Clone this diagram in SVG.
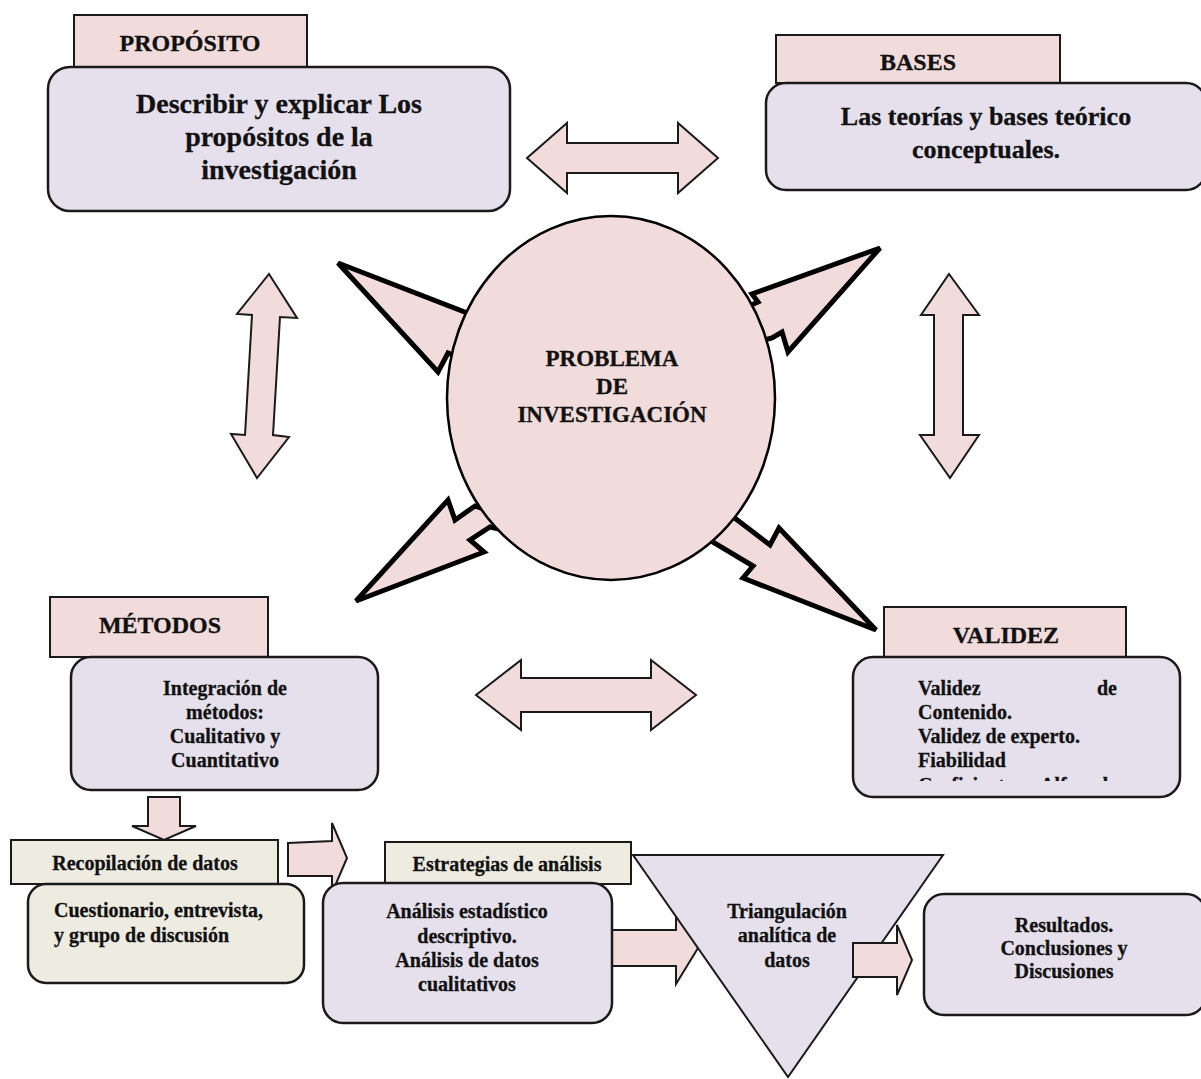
<svg xmlns="http://www.w3.org/2000/svg" width="1201" height="1079" viewBox="0 0 1201 1079">
<style>
.t{font-family:"Liberation Serif","Times New Roman",serif;font-weight:bold;fill:#111;stroke:#111;stroke-width:0.3;}
.c{text-anchor:middle;}
.tab{fill:#f2dcdb;stroke:#1a1a1a;stroke-width:2;}
.tabb{fill:#eeece1;stroke:#1a1a1a;stroke-width:2;}
.box{fill:#e5e0ec;stroke:#1a1a1a;stroke-width:2.5;}
.boxb{fill:#eeece1;stroke:#1a1a1a;stroke-width:2.5;}
.arr{fill:#f2dcdb;stroke:#1a1a1a;stroke-width:2;stroke-linejoin:miter;}
.bolt{fill:#f2dcdb;stroke:#000;stroke-width:5;stroke-linejoin:miter;}
.s28{font-size:28px;}
.s26{font-size:26px;}
.s24{font-size:24px;}
.s23{font-size:23px;}
.s20{font-size:20px;}
</style>
<defs>
<clipPath id="valclip"><rect x="853" y="657" width="327" height="124"/></clipPath>
</defs>
<rect width="1201" height="1079" fill="#ffffff"/>

<g id="connectors">
<polygon class="bolt" points="338,263 480,318 478,362 458,357 448,353 438,372"/>
<polygon class="bolt" points="880,248 752,294 758,302 740,310 745,345 772,338 782,332 788,352"/>
<polygon class="bolt" points="356,601 448,500 455,520 475,506 500,515 512,532 490,527 470,540 484,552"/>
<polygon class="bolt" points="876,630 779,528 770,545 732,516 706,538 753,566 743,578"/>
<polygon class="arr" points="527,158 567,123 567,143 678,143 678,123 718,158 678,193 678,173 567,173 567,193"/>
<polygon class="arr" points="269,274 297,318 280,317 273,435 289,437 257,478 231,434 245,435 252,315 237,314"/>
<polygon class="arr" points="949,274 979,315 963,315 963,435 979,435 950,478 920,435 934,435 934,315 921,315"/>
<polygon class="arr" points="476,695 521,660 521,678 651,678 651,660 696,695 651,730 651,712 521,712 521,730"/>
<polygon class="arr" points="148,797 180,797 180,826 196,826 164,840 132,826 148,826"/>
<polygon class="arr" points="612,930 676,930 676,912 698,948 676,984 676,966 612,966"/>
</g>

<g id="problema">
<ellipse cx="611" cy="398" rx="164" ry="182" fill="#f2dcdb" stroke="#000" stroke-width="2.5"/>
<text class="t c s23" x="612" y="366">PROBLEMA</text>
<text class="t c s23" x="612" y="394">DE</text>
<text class="t c s23" x="612" y="422">INVESTIGACIÓN</text>
</g>

<g id="proposito">
<rect class="tab" x="74" y="15" width="233" height="52"/>
<text class="t c s24" x="190" y="51">PROPÓSITO</text>
<rect class="box" x="48" y="67" width="462" height="144" rx="22"/>
<text class="t c s28" x="279" y="113">Describir y explicar Los</text>
<text class="t c s28" x="279" y="146">propósitos de la</text>
<text class="t c s28" x="279" y="179">investigación</text>
</g>

<g id="bases">
<rect class="tab" x="776" y="35" width="284" height="48"/>
<text class="t c s24" x="918" y="70">BASES</text>
<rect class="box" x="766" y="83" width="440" height="107" rx="20"/>
<text class="t c s26" x="986" y="125">Las teorías y bases teórico</text>
<text class="t c s26" x="986" y="158">conceptuales.</text>
</g>

<g id="metodos">
<rect class="tab" x="50" y="597" width="218" height="60"/>
<text class="t c s24" x="160" y="633">MÉTODOS</text>
<rect class="box" x="71" y="657" width="307" height="133" rx="20"/>
<text class="t c s20" x="225" y="695">Integración de</text>
<text class="t c s20" x="225" y="719">métodos:</text>
<text class="t c s20" x="225" y="743">Cualitativo y</text>
<text class="t c s20" x="225" y="767">Cuantitativo</text>
</g>

<g id="validez">
<rect class="tab" x="884" y="607" width="242" height="50"/>
<text class="t c s24" x="1006" y="643">VALIDEZ</text>
<rect class="box" x="853" y="657" width="327" height="140" rx="20"/>
<text class="t s20" x="918" y="695">Validez</text>
<text class="t s20" x="1117" y="695" text-anchor="end">de</text>
<text class="t s20" x="918" y="719">Contenido.</text>
<text class="t s20" x="918" y="743">Validez de experto.</text>
<text class="t s20" x="918" y="767">Fiabilidad</text>
<g clip-path="url(#valclip)">
<text class="t s20" x="918" y="792">Coeficiente</text>
<text class="t s20" x="1040" y="792">Alfa</text>
<text class="t s20" x="1117" y="792" text-anchor="end">de</text>
</g>
</g>

<g id="recopilacion">
<rect class="tabb" x="11" y="840" width="267" height="44"/>
<text class="t c s20" x="145" y="870">Recopilación de datos</text>
<rect class="boxb" x="28" y="884" width="276" height="99" rx="18"/>
<text class="t s20" x="54" y="917">Cuestionario, entrevista,</text>
<text class="t s20" x="54" y="942">y grupo de discusión</text>
</g>

<g id="connector-recop-estrategias">
<polygon class="arr" points="288,843 332,841 332,823 347,858 332,893 332,876 288,876"/>
</g>

<g id="estrategias">
<rect class="tabb" x="385" y="842" width="246" height="42"/>
<text class="t c s20" x="507" y="871">Estrategias de análisis</text>
<rect class="box" x="323" y="883" width="289" height="140" rx="20"/>
<text class="t c s20" x="467" y="918">Análisis  estadístico</text>
<text class="t c s20" x="467" y="943">descriptivo.</text>
<text class="t c s20" x="467" y="967">Análisis de datos</text>
<text class="t c s20" x="467" y="991">cualitativos</text>
</g>

<g id="triangulacion">
<polygon points="633,855 943,855 788,1077" fill="#e5e0ec" stroke="#1a1a1a" stroke-width="2"/>
<text class="t c s20" x="787" y="918">Triangulación</text>
<text class="t c s20" x="787" y="942">analítica de</text>
<text class="t c s20" x="787" y="967">datos</text>
</g>

<g id="connector-tri-result">
<polygon class="arr" points="853,943 897,943 897,925 912,960 897,995 897,977 853,977"/>
</g>

<g id="resultados">
<rect class="box" x="924" y="894" width="282" height="121" rx="20"/>
<text class="t c s20" x="1064" y="932">Resultados.</text>
<text class="t c s20" x="1064" y="955">Conclusiones y</text>
<text class="t c s20" x="1064" y="978">Discusiones</text>
</g>
</svg>
